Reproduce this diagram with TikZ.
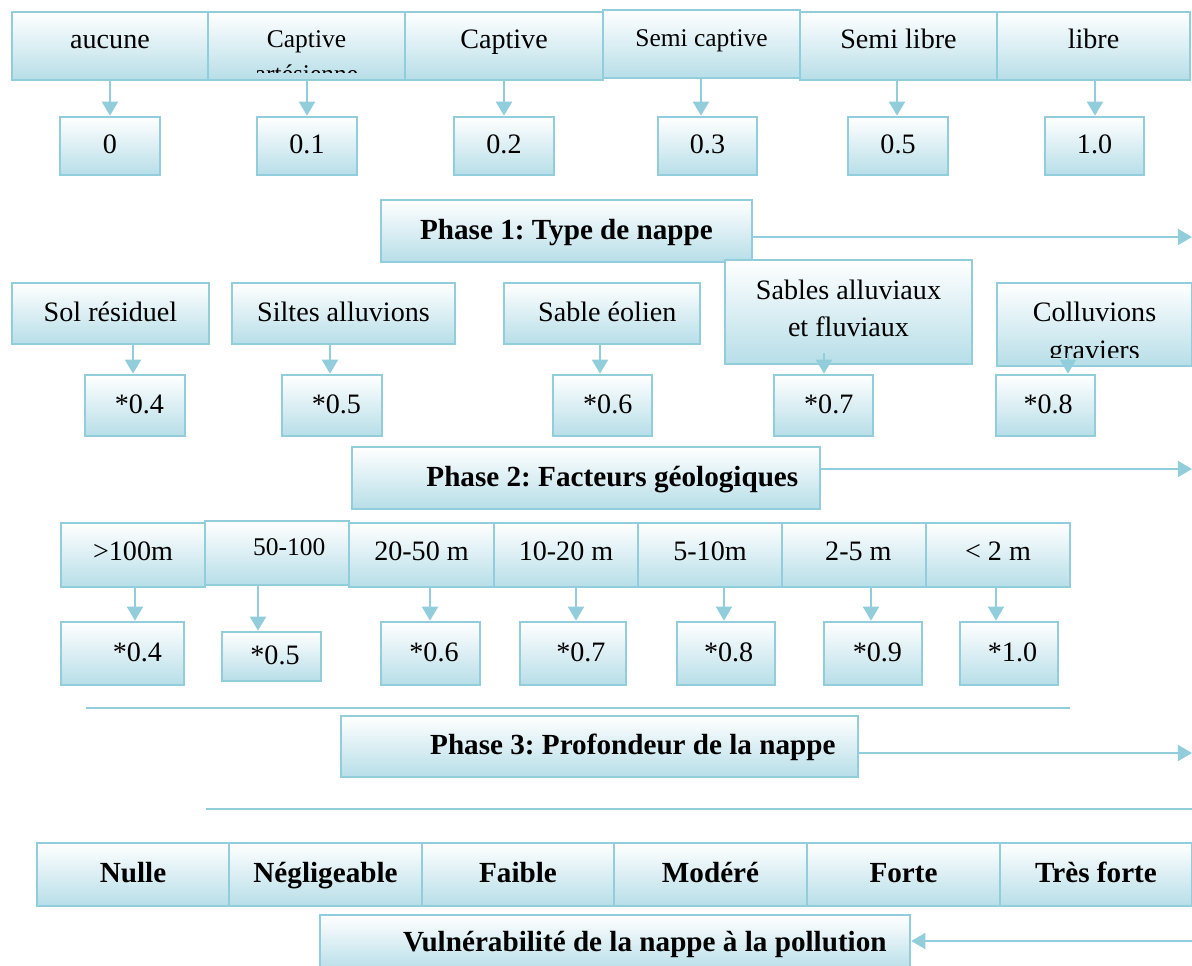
\documentclass[tikz,border=0pt]{standalone}
\usepackage{fontspec}
\setmainfont{Liberation Serif}
\usetikzlibrary{calc, positioning}
\usetikzlibrary{arrows.meta}
\definecolor{aqua}{HTML}{92CDDC}
\definecolor{aquafill}{HTML}{B7DEE8}

\begin{document}
\frenchspacing
\begin{tikzpicture}[
    x=0.02cm, y=-0.02cm,
    cell/.style 2 args={draw=aqua, line width=1.5pt, top color=white, bottom color=aquafill,
        minimum width=#1*0.02cm, minimum height=#2*0.02cm, inner sep=0pt,
        font=\fontsize{16}{19}\selectfont, text height=0.9em, text depth=0.02em},
    lifted/.style={text height=0.75em, text depth=0.15em},
    raised/.style={text height=0.6em, text depth=0.32em},
    small/.style={font=\fontsize{14.5}{17}\selectfont},
    phase/.style={font=\fontsize{16.6}{20}\selectfont\bfseries, text height=0.95em, text depth=0em},
    padleft/.style={execute at begin node={\hspace*{#1}}},
    flow/.style={draw=aqua, line width=1.5pt, -{Triangle[width=9pt,length=8pt]}},
    rule/.style={draw=aqua, line width=1.5pt}
]
\clip (0,0) rectangle (1192,965);

% Phase 1: type de nappe
\node[cell={196}{68}, raised] (ty1) at (110,46) {aucune};
\node[cell={197}{68}] (ty2) at (306.5,46) {};
\node[cell={198}{68}, raised] (ty3) at (504,46) {Captive};
\node[cell={197}{68}, raised, small] (ty4) at (701.5,44) {Semi captive};
\node[cell={197}{68}, raised] (ty5) at (898.5,46) {Semi libre};
\node[cell={193}{68}, raised] (ty6) at (1093.5,46) {libre};

\begin{scope}
    \clip (ty2.north west) rectangle ($(ty2.south east)+(0,-9)$);
    \node[small, anchor=base] (ty2a) at (306.5,47) {Captive};
    \node[small, anchor=base] (ty2b) at (306.5,82) {artésienne};
\end{scope}

\node[cell={100}{58}] (va1) at (110,146) {0};
\node[cell={100}{58}] (va2) at (307,146) {0.1};
\node[cell={100}{58}] (va3) at (504,146) {0.2};
\node[cell={99}{58}] (va4) at (707.5,146) {0.3};
\node[cell={100}{58}] (va5) at (898,146) {0.5};
\node[cell={99}{58}] (va6) at (1094.5,146) {1.0};

\foreach \n/\x in {1/110, 2/307, 3/504, 4/701, 5/897, 6/1095}
    \draw[flow] (ty\n.south -| \x,0) -- (va\n.north -| \x,0);

\node[cell={371}{62}, phase] (ph1) at (566.5,231) {Phase 1: Type de nappe};
\coordinate (out1) at (1192,237);
\draw[flow] (ph1.east |- out1) -- (out1);

% Phase 2: facteurs geologiques
\node[cell={197}{61}] (ge1) at (110.5,313.5) {Sol résiduel};
\node[cell={223}{61}] (ge2) at (343.5,313.5) {Siltes alluvions};
\node[cell={196}{61}, padleft=6pt] (ge3) at (602,313.5) {Sable éolien};
\node[cell={247}{104}] (ge4) at (848.5,312) {};
\node[cell={195}{83}] (ge5) at (1094.5,324.5) {};

\node[anchor=base, font=\fontsize{16}{19}\selectfont] (ge4a) at (848.5,299) {Sables alluviaux};
\node[anchor=base, font=\fontsize{16}{19}\selectfont] (ge4b) at (848.5,336) {et fluviaux};
\begin{scope}
    \clip (ge5.north west) rectangle ($(ge5.south east)+(0,-10)$);
    \node[anchor=base, font=\fontsize{16}{19}\selectfont] (ge5a) at (1094.5,321) {Colluvions};
    \node[anchor=base, font=\fontsize{16}{19}\selectfont] (ge5b) at (1094.5,359) {graviers};
\end{scope}

\node[cell={100}{61}, padleft=5pt] (gv1) at (135,405.5) {*0.4};
\node[cell={100}{61}, padleft=5pt] (gv2) at (332,405.5) {*0.5};
\node[cell={99}{61}, padleft=6pt] (gv3) at (602.5,405.5) {*0.6};
\node[cell={99}{61}, padleft=6pt] (gv4) at (823.5,405.5) {*0.7};
\node[cell={99}{61}, padleft=3pt] (gv5) at (1045.5,405.5) {*0.8};

\foreach \n/\x in {1/133, 2/330, 3/600}
    \draw[flow] (ge\n.south -| \x,0) -- (gv\n.north -| \x,0);
\coordinate (s4) at (824,353);
\coordinate (s5) at (1068,353);
\draw[flow] (s4) -- (s4 |- gv4.north);
\draw[flow] (s5) -- (s5 |- gv5.north);

\node[cell={468}{62}, phase, padleft=30pt] (ph2) at (586,478) {Phase 2: Facteurs géologiques};
\coordinate (out2) at (1192,469);
\draw[flow] (ph2.east |- out2) -- (out2);

% Phase 3: profondeur de la nappe
\node[cell={144}{64}, lifted] (pr1) at (133,555) {>100m};
\node[cell={144}{64}, raised, small, padleft=14pt] (pr2) at (277,553) {50-100};
\node[cell={145}{64}, lifted] (pr3) at (421.5,555) {20-50 m};
\node[cell={144}{64}, lifted] (pr4) at (566,555) {10-20 m};
\node[cell={144}{64}, lifted] (pr5) at (710,555) {5-10m};
\node[cell={144}{64}, lifted, padleft=5pt] (pr6) at (854,555) {2-5 m};
\node[cell={144}{64}, lifted] (pr7) at (998,555) {< 2 m};

\node[cell={123}{63}, padleft=17pt] (pv1) at (122.5,653.5) {*0.4};
\node[cell={99}{49}, padleft=4pt] (pv2) at (271.5,656.5) {*0.5};
\node[cell={99}{63}, padleft=4pt] (pv3) at (430.5,653.5) {*0.6};
\node[cell={106}{63}, padleft=9pt] (pv4) at (573,653.5) {*0.7};
\node[cell={98}{63}, padleft=3pt] (pv5) at (726,653.5) {*0.8};
\node[cell={98}{63}, padleft=5pt] (pv6) at (873,653.5) {*0.9};
\node[cell={98}{63}, padleft=4pt] (pv7) at (1009,653.5) {*1.0};

\foreach \n/\x in {1/135, 2/258, 3/430, 4/576, 5/724, 6/871, 7/996}
    \draw[flow] (pr\n.south -| \x,0) -- (pv\n.north -| \x,0);

\draw[rule] (86,708) -- (1070,708);
\node[cell={517}{61}, phase, padleft=38pt] (ph3) at (599.5,746.5) {Phase 3: Profondeur de la nappe};
\coordinate (out3) at (1192,753);
\draw[flow] (ph3.east |- out3) -- (out3);
\draw[rule] (206,809) -- (1192,809);

% Vulnerabilite
\node[cell={192}{63}, phase] (vu1) at (133,874.5) {Nulle};
\node[cell={193}{63}, phase] (vu2) at (325.5,874.5) {Négligeable};
\node[cell={192}{63}, phase] (vu3) at (518,874.5) {Faible};
\node[cell={193}{63}, phase] (vu4) at (710.5,874.5) {Modéré};
\node[cell={193}{63}, phase] (vu5) at (903.5,874.5) {Forte};
\node[cell={192}{63}, phase] (vu6) at (1096,874.5) {Très forte};

\node[cell={590}{56}, phase, padleft=34pt] (vul) at (615,943) {Vulnérabilité de la nappe à la pollution};
\coordinate (in4) at (1192,941);
\draw[flow] (in4) -- (vul.east |- in4);
\end{tikzpicture}
\end{document}
